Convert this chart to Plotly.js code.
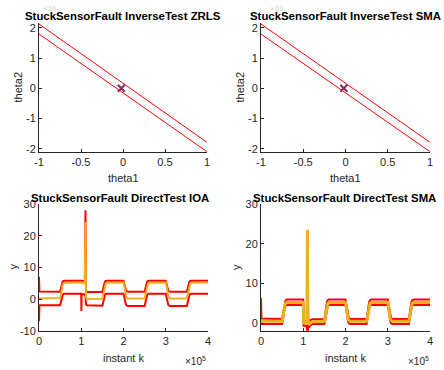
<!DOCTYPE html>
<html>
<head>
<meta charset="utf-8">
<script src="https://cdn.plot.ly/plotly-3.0.1.min.js"></script>
<style>html,body{margin:0;padding:0;background:#fff;}#chart{width:444px;height:370px;}</style>
</head>
<body>
<div id="chart"></div>
<script>
// ---------- Data ----------
// Inverse tests (theta1 vs theta2 bounds)
const theta1 = [-1, 1];
const zrlsUpper = [2.13, -1.79];
const zrlsLower = [1.80, -2.10];
const zrlsCenterT1 = [-0.02];
const zrlsCenterT2 = [0.0];
const smaUpper = [2.13, -1.79];
const smaLower = [1.80, -2.10];
const smaCenterT1 = [-0.02];
const smaCenterT2 = [0.0];

// Direct test IOA
const kIOA = [0, 1000, 50000, 52000, 54000, 56000, 58000, 61000, 100000, 100400, 100800, 108500, 110000, 111200, 113000,
  150000, 152000, 154000, 156000, 158000, 161000, 200000, 202000, 204000, 206000, 208000, 211000,
  250000, 252000, 254000, 256000, 258000, 261000, 300000, 302000, 304000, 306000, 308000, 311000,
  350000, 352000, 354000, 356000, 358000, 361000, 400000];
const ioaY = [0.2, 0.2, 0.3, 1.4, 3.2, 4.4, 4.9, 5.1, 5.2, 5.1, 5.0, 5.0, 24.3, 0.6, 0.0,
  0.1, 1.3, 3.1, 4.3, 4.9, 5.1, 5.2, 4.1, 2.1, 0.9, 0.4, 0.2,
  0.2, 1.4, 3.2, 4.4, 4.9, 5.1, 5.2, 4.1, 2.1, 0.9, 0.4, 0.2,
  0.2, 1.4, 3.2, 4.4, 4.9, 5.1, 5.2];
const ioaUpper = [7.0, 2.4, 2.3, 3.4, 4.9, 5.5, 5.7, 5.8, 5.8, 6.0, 5.8, 5.7, 28.0, 2.6, 2.2,
  2.2, 3.3, 4.8, 5.4, 5.7, 5.8, 5.8, 4.7, 3.2, 2.6, 2.4, 2.3,
  2.3, 3.4, 4.9, 5.5, 5.7, 5.8, 5.8, 4.7, 3.2, 2.6, 2.4, 2.3,
  2.3, 3.4, 4.9, 5.5, 5.7, 5.8, 5.8];
const ioaLower = [-7.0, -2.0, -2.0, -1.0, 0.6, 1.3, 1.6, 1.7, 1.7, -3.8, 1.5, 1.5, 1.0, -1.6, -2.0,
  -2.1, -1.0, 0.6, 1.3, 1.6, 1.7, 1.7, 0.5, -1.2, -1.9, -2.1, -2.2,
  -2.2, -1.1, 0.5, 1.3, 1.6, 1.7, 1.7, 0.5, -1.2, -1.9, -2.1, -2.2,
  -2.2, -1.1, 0.5, 1.3, 1.6, 1.7, 1.7];

// Direct test SMA
const kSMA = [0, 1000, 50000, 52000, 54000, 56000, 58000, 61000, 100000, 100800, 108500, 110000, 110500, 111500, 113500, 117000, 122000,
  150000, 152000, 154000, 156000, 158000, 161000, 200000, 202000, 204000, 206000, 208000, 211000,
  250000, 252000, 254000, 256000, 258000, 261000, 300000, 302000, 304000, 306000, 308000, 311000,
  350000, 352000, 354000, 356000, 358000, 361000, 400000];
const smaY = [0.5, 0.5, 0.5, 1.6, 3.4, 4.5, 5.0, 5.2, 5.2, 0.1, 0.0, 23.5, 8.0, 0.8, -0.4, 0.1, 0.4,
  0.5, 1.6, 3.4, 4.5, 5.0, 5.2, 5.2, 4.1, 2.2, 1.1, 0.7, 0.5,
  0.5, 1.6, 3.4, 4.5, 5.0, 5.2, 5.2, 4.1, 2.2, 1.1, 0.7, 0.5,
  0.5, 1.6, 3.4, 4.5, 5.0, 5.2, 5.2];
const smaYUpper = [6.3, 1.2, 1.1, 2.4, 4.3, 5.4, 5.8, 6.0, 6.0, 0.6, 0.5, 15.5, 5.0, 1.5, 0.3, 0.8, 1.0,
  1.1, 2.4, 4.3, 5.4, 5.8, 6.0, 6.0, 4.9, 2.9, 1.8, 1.3, 1.1,
  1.1, 2.4, 4.3, 5.4, 5.8, 6.0, 6.0, 4.9, 2.9, 1.8, 1.3, 1.1,
  1.1, 2.4, 4.3, 5.4, 5.8, 6.0, 6.0];
const smaYLower = [-0.3, -0.2, -0.2, 0.7, 2.4, 3.8, 4.4, 4.6, 4.6, -0.6, -0.6, -6.0, -1.0, -0.5, -1.0, -0.5, -0.2,
  -0.2, 0.7, 2.4, 3.8, 4.4, 4.6, 4.6, 3.4, 1.4, 0.4, 0.0, -0.2,
  -0.2, 0.7, 2.4, 3.8, 4.4, 4.6, 4.6, 3.4, 1.4, 0.4, 0.0, -0.2,
  -0.2, 0.7, 2.4, 3.8, 4.4, 4.6, 4.6];

// Tick labels
const thetaXTicks = [-1, -0.5, 0, 0.5, 1];
const thetaXText = ['-1', '-0.5', '0', '0.5', '1'];
const thetaYTicks = [-2, -1, 0, 1, 2];
const thetaYText = ['-2', '-1', '0', '1', '2'];
const kTicks = [0, 100000, 200000, 300000, 400000];
const kText = ['0', '1', '2', '3', '4'];
const ioaYTicks = [-10, 0, 10, 20, 30];
const ioaYText = ['-10', '0', '10', '20', '30'];
const smaYTicks = [0, 10, 20, 30];
const smaYText = ['0', '10', '20', '30'];

const titles = ['StuckSensorFault InverseTest ZRLS', 'StuckSensorFault InverseTest SMA',
  'StuckSensorFault DirectTest IOA', 'StuckSensorFault DirectTest SMA'];

// ---------- Layout helpers ----------
const W = 444, H = 370;
const px = p => p / W;
const py = p => 1 - p / H;
const RED = '#FF0000', ORANGE = '#EDB120', MARK = '#7E2F5E', AX = '#262626';
const FONT = 'Liberation Sans, Arial, Helvetica, sans-serif';

function axis(domain, range, tickvals, ticktext, anchor) {
  return {
    domain: domain, range: range, anchor: anchor,
    tickvals: tickvals, ticktext: ticktext,
    showline: true, linecolor: AX, linewidth: 1,
    ticks: 'inside', ticklen: 3, tickcolor: AX, tickwidth: 1,
    tickfont: {family: FONT, size: 11, color: AX},
    showgrid: false, zeroline: false, mirror: false, fixedrange: true
  };
}

const traces = [
  {x: theta1, y: zrlsUpper, xaxis: 'x', yaxis: 'y', mode: 'lines', line: {color: RED, width: 1}},
  {x: theta1, y: zrlsLower, xaxis: 'x', yaxis: 'y', mode: 'lines', line: {color: RED, width: 1}},
  {x: zrlsCenterT1, y: zrlsCenterT2, xaxis: 'x', yaxis: 'y', mode: 'markers', marker: {symbol: 'x-thin', size: 7, color: MARK, line: {width: 2, color: MARK}}},
  {x: theta1, y: smaUpper, xaxis: 'x2', yaxis: 'y2', mode: 'lines', line: {color: RED, width: 1}},
  {x: theta1, y: smaLower, xaxis: 'x2', yaxis: 'y2', mode: 'lines', line: {color: RED, width: 1}},
  {x: smaCenterT1, y: smaCenterT2, xaxis: 'x2', yaxis: 'y2', mode: 'markers', marker: {symbol: 'x-thin', size: 7, color: MARK, line: {width: 2, color: MARK}}},
  {x: kIOA, y: ioaUpper, xaxis: 'x3', yaxis: 'y3', mode: 'lines', line: {color: RED, width: 2}},
  {x: kIOA, y: ioaLower, xaxis: 'x3', yaxis: 'y3', mode: 'lines', line: {color: RED, width: 2}},
  {x: kIOA, y: ioaY, xaxis: 'x3', yaxis: 'y3', mode: 'lines', line: {color: ORANGE, width: 2}},
  {x: kSMA, y: smaYUpper, xaxis: 'x4', yaxis: 'y4', mode: 'lines', line: {color: RED, width: 2}},
  {x: kSMA, y: smaYLower, xaxis: 'x4', yaxis: 'y4', mode: 'lines', line: {color: RED, width: 2}},
  {x: kSMA, y: smaY, xaxis: 'x4', yaxis: 'y4', mode: 'lines', line: {color: ORANGE, width: 3}}
];

function ann(text, x, y, opts) {
  return Object.assign({text: text, x: px(x), y: py(y), xref: 'paper', yref: 'paper', showarrow: false,
    xanchor: 'center', yanchor: 'middle', font: {family: FONT, size: 11, color: AX}}, opts || {});
}

const TF = {family: FONT, size: 11.4, color: '#000'};
const annotations = [
  ann('×10', 50, 8, {font: {family: FONT, size: 8, color: '#d0d0d0'}}),
  ann('×10', 277, 8, {font: {family: FONT, size: 8, color: '#d0d0d0'}}),
  ann('<b>' + titles[0] + '</b>', 122.5, 15.5, {font: TF}),
  ann('<b>' + titles[1] + '</b>', 345.5, 15.5, {font: TF}),
  ann('<b>' + titles[2] + '</b>', 120, 198.5, {font: TF}),
  ann('<b>' + titles[3] + '</b>', 344, 198.5, {font: TF}),
  ann('theta1', 123, 178),
  ann('theta1', 345.5, 178),
  ann('theta2', 17, 87.5, {textangle: -90}),
  ann('theta2', 239, 87.5, {textangle: -90}),
  ann('instant k', 123.5, 357.5),
  ann('instant k', 345.5, 357.5),
  ann('y', 12.5, 267, {textangle: -90}),
  ann('y', 236, 267, {textangle: -90}),
  ann('×10<sup>5</sup>', 208, 361, {xanchor: 'right', font: {family: FONT, size: 10, color: AX}}),
  ann('×10<sup>5</sup>', 431, 361, {xanchor: 'right', font: {family: FONT, size: 10, color: AX}})
];

const layout = {
  width: W, height: H, margin: {l: 0, r: 0, t: 0, b: 0},
  paper_bgcolor: '#fff', plot_bgcolor: '#fff', showlegend: false,
  xaxis: axis([px(39), px(207)], [-1, 1], thetaXTicks, thetaXText, 'y'),
  yaxis: axis([py(151.7), py(23)], [-2.1, 2.165], thetaYTicks, thetaYText, 'x'),
  xaxis2: axis([px(261), px(430)], [-1, 1], thetaXTicks, thetaXText, 'y2'),
  yaxis2: axis([py(151.7), py(23)], [-2.1, 2.165], thetaYTicks, thetaYText, 'x2'),
  xaxis3: axis([px(39), px(208)], [0, 400000], kTicks, kText, 'y3'),
  yaxis3: axis([py(330.7), py(204)], [-10, 30], ioaYTicks, ioaYText, 'x3'),
  xaxis4: axis([px(261), px(430)], [0, 400000], kTicks, kText, 'y4'),
  yaxis4: axis([py(330.7), py(204)], [-1.86, 30], smaYTicks, smaYText, 'x4'),
  annotations: annotations
};

Plotly.newPlot('chart', traces, layout, {displayModeBar: false, staticPlot: true});
</script>
</body>
</html>
